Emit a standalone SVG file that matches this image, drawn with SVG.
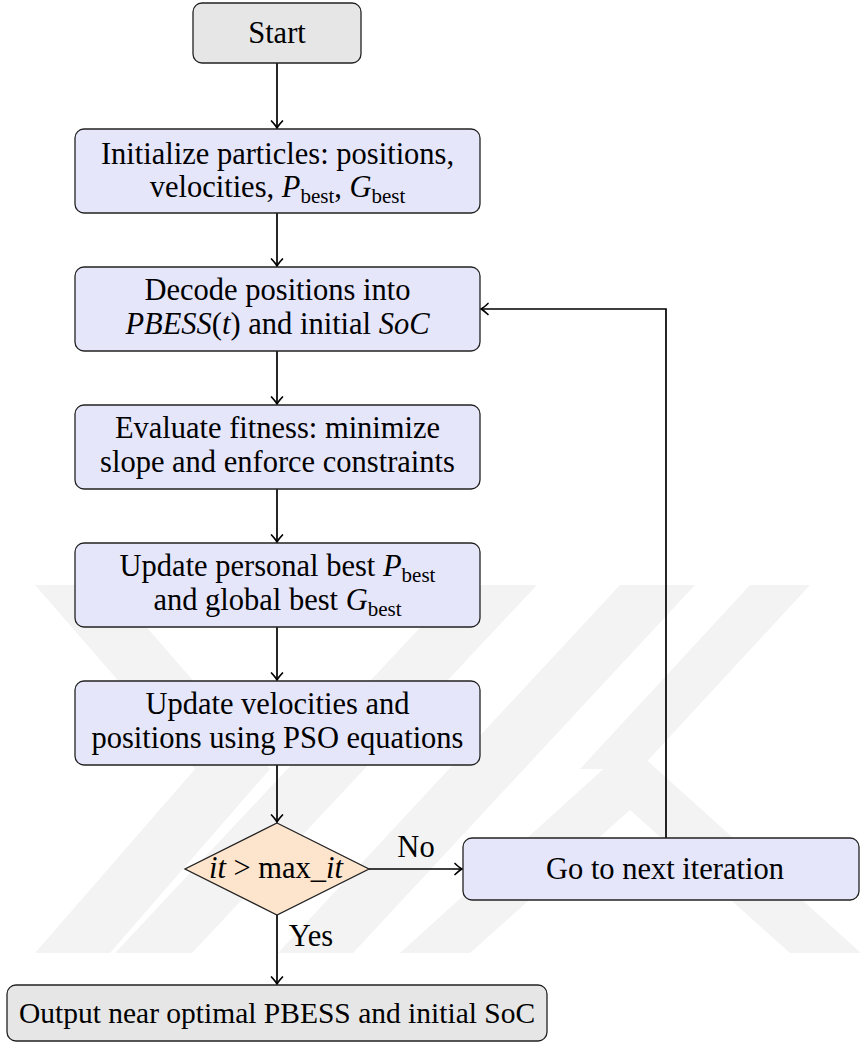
<svg xmlns="http://www.w3.org/2000/svg" width="861" height="1047" viewBox="0 0 861 1047">
<style>
text{font-family:'Liberation Serif','Tinos','Times New Roman','DejaVu Serif',serif}
.t{font-size:30.5px;fill:#000;text-anchor:middle}
.o{font-size:29.5px}
.i{font-style:italic}
.sub{font-size:21px}
.box{fill:#e6e6fb;stroke:#222;stroke-width:1.3}
.term{fill:#e6e6e6;stroke:#222;stroke-width:1.3}
.dec{fill:#fde4cc;stroke:#222;stroke-width:1.3}
.wm{fill:#f3f3f3}
.edge{fill:none;stroke:#000;stroke-width:1.7}
</style>
<defs>
<marker id="ah" markerUnits="userSpaceOnUse" markerWidth="14" markerHeight="14" viewBox="-8 -7 10 14" refX="0" refY="0" orient="auto">
<path d="M-7,-5.5 Q-2.5,-1.3 0,0 Q-2.5,1.3 -7,5.5" fill="none" stroke="#000" stroke-width="1.7" stroke-linecap="round"/>
</marker>
</defs>
<rect width="861" height="1047" fill="#fff"/>
<g id="watermark">
<polygon class="wm" points="35,585 110,585 270,769 110,953 35,953 195,769"/>
<polygon class="wm" points="460,585 537,585 192,953 115,953"/>
<polygon class="wm" points="620,585 695,585 353,953 278,953"/>
<polygon class="wm" points="750,585 810,585 640,769 580,769"/>
<polygon class="wm" points="630,745 861,953 790,953 630,810 470,953 400,953"/>
</g>
<g id="connectors">
<path class="edge" d="M277,63 V128" marker-end="url(#ah)"/>
<path class="edge" d="M277,213 V266" marker-end="url(#ah)"/>
<path class="edge" d="M277,351 V404" marker-end="url(#ah)"/>
<path class="edge" d="M277,489 V542" marker-end="url(#ah)"/>
<path class="edge" d="M277,627 V680" marker-end="url(#ah)"/>
<path class="edge" d="M277,765 V822" marker-end="url(#ah)"/>
<path class="edge" d="M369,869 H462" marker-end="url(#ah)"/>
<path class="edge" d="M277,915 V984" marker-end="url(#ah)"/>
<path class="edge" d="M666,838 V309 H481" marker-end="url(#ah)"/>
<text class="t" x="416" y="857">No</text>
<text class="t" x="311" y="946">Yes</text>
</g>
<g id="start">
<rect class="term" x="193" y="3" width="168" height="60" rx="9"/>
<text class="t" x="277" y="43">Start</text>
</g>
<g id="init">
<rect class="box" x="75" y="129" width="405" height="84" rx="9"/>
<text class="t" x="277.5" y="164">Initialize particles:  positions,</text>
<text class="t" x="277.5" y="197">velocities, <tspan class="i">P</tspan><tspan class="sub" dy="6">best</tspan><tspan dy="-6">, </tspan><tspan class="i">G</tspan><tspan class="sub" dy="6">best</tspan></text>
</g>
<g id="decode">
<rect class="box" x="75" y="267" width="405" height="84" rx="9"/>
<text class="t" x="277.5" y="300">Decode positions into</text>
<text class="t" x="277.5" y="334"><tspan class="i">PBESS</tspan>(<tspan class="i">t</tspan>) and initial <tspan class="i">SoC</tspan></text>
</g>
<g id="evaluate">
<rect class="box" x="75" y="405" width="405" height="84" rx="9"/>
<text class="t" x="277.5" y="438">Evaluate fitness:  minimize</text>
<text class="t" x="277.5" y="472">slope and enforce constraints</text>
</g>
<g id="update-best">
<rect class="box" x="75" y="543" width="405" height="84" rx="9"/>
<text class="t" x="277.5" y="576">Update personal best <tspan class="i">P</tspan><tspan class="sub" dy="6">best</tspan></text>
<text class="t" x="277.5" y="610">and global best <tspan class="i">G</tspan><tspan class="sub" dy="6">best</tspan></text>
</g>
<g id="update-vel">
<rect class="box" x="75" y="681" width="405" height="84" rx="9"/>
<text class="t" x="277.5" y="714">Update velocities and</text>
<text class="t" x="277.5" y="748">positions using PSO equations</text>
</g>
<g id="decision">
<polygon class="dec" points="277,823 369,869 277,915 185,869"/>
<text class="t" x="276" y="878"><tspan class="i">it</tspan> &gt; max_<tspan class="i">it</tspan></text>
</g>
<g id="next">
<rect class="box" x="463" y="838" width="396" height="62" rx="9"/>
<text class="t" x="665" y="879">Go to next iteration</text>
</g>
<g id="output">
<rect class="term" x="7" y="985" width="540" height="56" rx="9"/>
<text class="t o" x="277" y="1023">Output near optimal PBESS and initial SoC</text>
</g>
</svg>
